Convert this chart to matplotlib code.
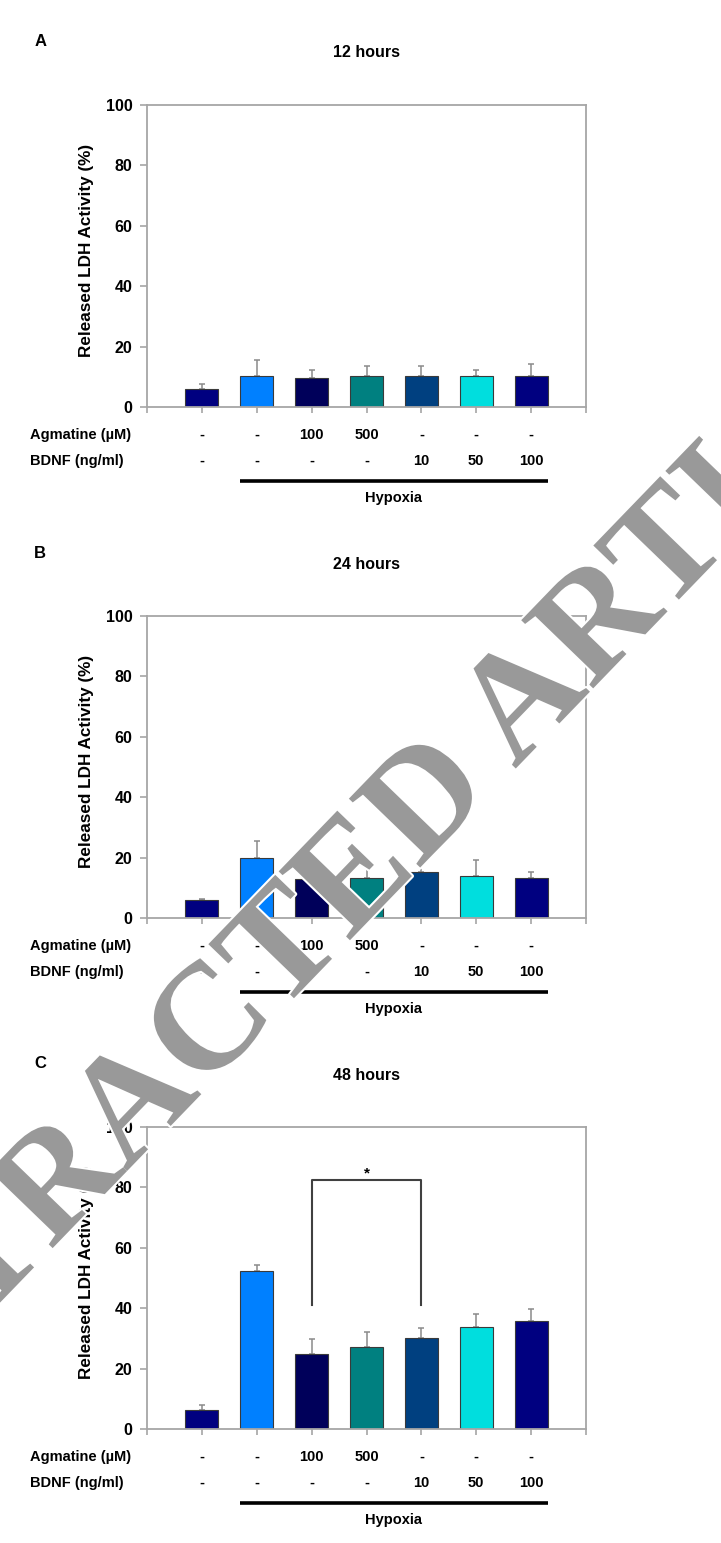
import matplotlib
matplotlib.use('Agg')
import matplotlib.pyplot as plt
import matplotlib.patheffects as pe
from matplotlib.transforms import blended_transform_factory
import numpy as np

plt.rcParams['font.family'] = ['Liberation Sans', 'DejaVu Sans']
plt.rcParams['font.weight'] = 'bold'

# data
panels = ['A', 'B', 'C']
hours = ['12 hours', '24 hours', '48 hours']
ldh_12 = [5.9, 10.2, 9.5, 10.4, 10.1, 10.1, 10.3]
err_12 = [1.6, 5.4, 2.8, 3.2, 3.6, 2.2, 4.0]
ldh_24 = [6.0, 20.0, 12.9, 13.4, 15.2, 13.8, 13.4]
err_24 = [0.3, 5.5, 4.0, 5.9, 3.3, 5.5, 1.8]
ldh_48 = [6.4, 52.3, 24.8, 27.0, 30.1, 33.7, 35.9]
err_48 = [1.5, 1.9, 5.1, 5.0, 3.3, 4.3, 4.0]
agmatine = ['-', '-', '100', '500', '-', '-', '-']
bdnf = ['-', '-', '-', '-', '10', '50', '100']
bar_colors = ['#000080', '#0080ff', '#00005a', '#008080', '#004080', '#00dede', '#000080']
# significance bracket in 48 h panel (bar 3 vs bar 5)
sig_pair = (3, 5)
sig_top = 82.4
sig_low = 41.0

values = [ldh_12, ldh_24, ldh_48]
errors = [err_12, err_24, err_48]

W, H = 721, 1543
fig = plt.figure(figsize=(W / 100, H / 100), dpi=100)

ax_left, ax_right = 147, 586
tops = [105, 616, 1127]
ax_h = 302

x = np.arange(1, 8)
for i in range(3):
    top = tops[i]
    ax = fig.add_axes([ax_left / W, 1 - (top + ax_h) / H,
                       (ax_right - ax_left) / W, ax_h / H])
    ax.errorbar(x, values[i], yerr=[np.zeros(7), errors[i]], fmt='none',
                ecolor='#8a8a8a', elinewidth=1.1, capsize=2.5, capthick=1.1, zorder=1)
    ax.bar(x, values[i], width=0.6, color=bar_colors, edgecolor='#3a3a3a',
           linewidth=0.8, zorder=2)
    ax.set_xlim(0, 8)
    ax.set_ylim(0, 100)
    ax.set_yticks(range(0, 101, 20))
    ax.set_xticks(range(0, 9))
    ax.set_xticklabels([])
    for s in ax.spines.values():
        s.set_color('#a6a6a6')
        s.set_linewidth(1.3)
    ax.tick_params(axis='y', direction='out', length=5, width=1.2, color='#a6a6a6',
                   labelsize=11.5, pad=5.5)
    ax.tick_params(axis='x', direction='out', length=4, width=1.2, color='#a6a6a6')
    for lab in ax.get_yticklabels():
        lab.set_fontweight('bold')

    ax.text(-0.137, 0.52, 'Released LDH Activity (%)', transform=ax.transAxes,
            rotation=90, ha='center', va='center', fontsize=12.3, fontweight='bold')
    ax.text(0.5, 1 + 52 / ax_h, hours[i], transform=ax.transAxes, ha='center',
            va='center', fontsize=11.5, fontweight='bold')
    ax.text(-0.257, 1 + 63 / ax_h, panels[i], transform=ax.transAxes, ha='left',
            va='center', fontsize=12, fontweight='bold')

    tr = blended_transform_factory(ax.transData, ax.transAxes)
    y_ag = -28 / ax_h
    y_bd = -54 / ax_h
    ax.text(-0.2665, y_ag, 'Agmatine (\u00b5M)', transform=ax.transAxes, ha='left',
            va='center', fontsize=10.5, fontweight='bold')
    ax.text(-0.2665, y_bd, 'BDNF (ng/ml)', transform=ax.transAxes, ha='left',
            va='center', fontsize=10.5, fontweight='bold')
    for xi, a, b in zip(x, agmatine, bdnf):
        ax.text(xi, y_ag, a, transform=tr, ha='center', va='center',
                fontsize=10.5, fontweight='bold')
        ax.text(xi, y_bd, b, transform=tr, ha='center', va='center',
                fontsize=10.5, fontweight='bold')
    ax.plot([2 - 0.3, 7 + 0.3], [-74 / ax_h] * 2, transform=tr, color='black',
            lw=2.6, clip_on=False, solid_capstyle='butt')
    ax.text(4.5, -91 / ax_h, 'Hypoxia', transform=tr, ha='center', va='center',
            fontsize=10.5, fontweight='bold')

    if i == 2:
        a, b = sig_pair
        ax.plot([a, a, b, b], [sig_low, sig_top, sig_top, sig_low], color='#404040',
                lw=1.5, zorder=3)
        ax.text((a + b) / 2, sig_top + 2.2, '*', ha='center', va='center',
                fontsize=11, fontweight='bold')

# retraction watermark
fig.text(412 / W, 1 - 876 / H, 'RETRACTED ARTICLE', rotation=46, rotation_mode='anchor',
         ha='center', va='baseline', fontsize=109, family='Liberation Serif',
         fontweight='bold', color='#999999', zorder=20,
         path_effects=[pe.withStroke(linewidth=3, foreground='white')])

fig.savefig('out.png', dpi=100, facecolor='white')
